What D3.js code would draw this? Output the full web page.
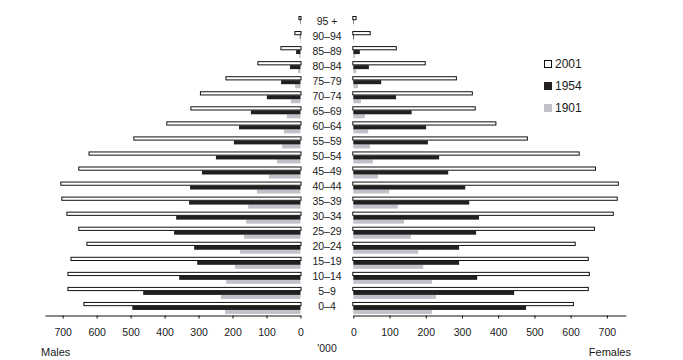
<!DOCTYPE html>
<html>
<head>
<meta charset="utf-8">
<script src="https://cdn.jsdelivr.net/npm/d3@7/dist/d3.min.js"></script>
<style>
body { margin: 0; background: #fff; }
svg { display: block; }
text { font-family: "Liberation Sans", Arial, sans-serif; fill: #1a1a1a; }
</style>
</head>
<body>
<svg id="chart" width="683" height="360"></svg>
<script>
const ages = ["95 +","90–94","85–89","80–84","75–79","70–74","65–69","60–64","55–59","50–54","45–49","40–44","35–39","30–34","25–29","20–24","15–19","10–14","5–9","0–4"];
const years = ["2001","1954","1901"];
// '000 persons, top (95+) to bottom (0-4)
const males2001   = [6,18,59,127,221,296,324,395,492,624,654,707,704,689,654,630,677,686,686,639];
const males1954   = [1.5,2,13,31,57,99,146,181,196,249,290,325,328,366,372,313,304,357,463,495];
const males1901   = [0.5,1.5,4,7,16,28,40,49,54,69,93,128,154,160,166,178,193,219,234,222];
const females2001 = [9,48,120,200,286,330,338,395,482,625,670,733,730,719,667,614,650,653,650,609];
const females1954 = [1.5,2,18,43,77,118,161,201,206,237,262,309,320,347,339,292,292,342,444,477];
const females1901 = [0.5,1.5,5,8,13,21,32,41,46,54,68,99,123,140,159,179,193,217,228,217];
const tickValues = [0,100,200,300,400,500,600,700];

const colors = {"2001":"#ffffff","1954":"#231f20","1901":"#c2c1ca"};

const svg = d3.select("#chart");

const xL = d3.scaleLinear().domain([0,752]).range([300.5,45]);
const xR = d3.scaleLinear().domain([0,752]).range([353.3,625.7]);
const y = d3.scaleBand().domain(ages).range([15,316]).padding(0);

function drawSide(x, m2001, m1954, m1901, left) {
  const g = svg.append("g");
  const x0 = x(0);
  function rectAttrs(sel, vals, off, h) {
    sel.selectAll(null).data(ages).enter().append("rect")
      .attr("x", (d,i) => left ? x(vals[i]) : x0)
      .attr("width", (d,i) => Math.abs(x(vals[i]) - x0))
      .attr("y", d => y(d) + off)
      .attr("height", h);
    return sel;
  }
  // 1901 gray
  const g3 = g.append("g").attr("fill", colors["1901"]);
  rectAttrs(g3, m1901, 9, 4);
  // 1954 black
  const g2 = g.append("g").attr("fill", colors["1954"]);
  rectAttrs(g2, m1954, 5, 4);
  // 2001 white outlined
  const g1 = g.append("g").attr("fill", colors["2001"]).attr("stroke", "#111").attr("stroke-width", 1);
  g1.selectAll(null).data(ages).enter().append("rect")
    .attr("x", (d,i) => left ? x(m2001[i]) + 0.5 : x0 - 0.5)
    .attr("width", (d,i) => Math.max(0, Math.abs(x(m2001[i]) - x0)))
    .attr("y", d => y(d) + 1.5)
    .attr("height", 3.2);
}

drawSide(xL, males2001, males1954, males1901, true);
drawSide(xR, females2001, females1954, females1901, false);

// axes
function styleAxis(g) {
  g.select(".domain").attr("stroke", "#111").attr("stroke-width", 1);
  g.selectAll(".tick line").attr("stroke", "#111");
  g.selectAll(".tick text").attr("font-size", "10.5px").attr("fill", "#1a1a1a")
    .attr("font-family", "'Liberation Sans', Arial, sans-serif");
}
const axL = svg.append("g").attr("transform", "translate(0,315.5)")
  .call(d3.axisBottom(xL).tickValues(tickValues).tickSize(3).tickSizeOuter(0).tickPadding(10).tickFormat(d3.format("d")));
styleAxis(axL);
const axR = svg.append("g").attr("transform", "translate(0,315.5)")
  .call(d3.axisBottom(xR).tickValues(tickValues).tickSize(3).tickSizeOuter(0).tickPadding(10).tickFormat(d3.format("d")));
styleAxis(axR);

// age labels
svg.append("g").selectAll("text").data(ages).enter().append("text")
  .attr("x", 327).attr("y", d => y(d) + 9.5)
  .attr("text-anchor", "middle").attr("font-size", "10.5px")
  .text(d => d);

// titles
svg.append("text").attr("x", 41).attr("y", 355.5).attr("font-size", "11px").text("Males");
svg.append("text").attr("x", 631).attr("y", 355.5).attr("text-anchor", "end").attr("font-size", "11px").text("Females");
svg.append("text").attr("x", 327).attr("y", 352).attr("text-anchor", "middle").attr("font-size", "10.5px").text("'000");

// legend
const lg = svg.append("g").selectAll("g").data(years).enter().append("g")
  .attr("transform", (d,i) => `translate(544,${60 + i*22})`);
lg.append("rect").attr("x", d => d === "2001" ? 0.5 : 0).attr("y", d => d === "2001" ? 0.5 : 0)
  .attr("width", d => d === "2001" ? 7 : 8).attr("height", d => d === "2001" ? 7 : 8)
  .attr("fill", d => colors[d])
  .attr("stroke", d => d === "2001" ? "#111" : "none");
lg.append("text").attr("x", 11).attr("y", 8).attr("font-size", "12px").text(d => d);
</script>
</body>
</html>
